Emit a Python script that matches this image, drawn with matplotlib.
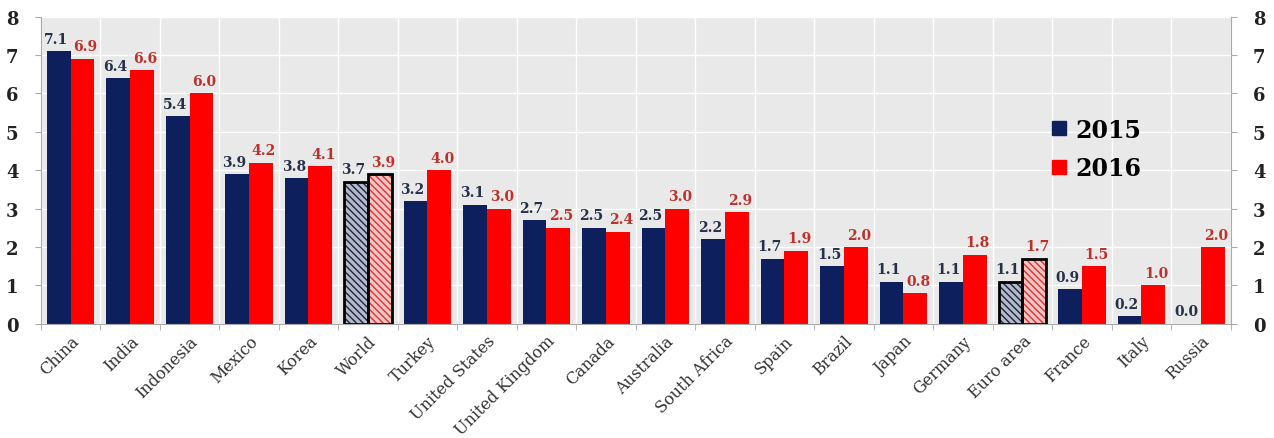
import numpy as np
import matplotlib.pyplot as plt
from matplotlib.lines import Line2D

# Dữ liệu tăng trưởng GDP (%)
countries = ['China', 'India', 'Indonesia', 'Mexico', 'Korea', 'World', 'Turkey',
             'United States', 'United Kingdom', 'Canada', 'Australia', 'South Africa',
             'Spain', 'Brazil', 'Japan', 'Germany', 'Euro area', 'France', 'Italy', 'Russia']
g2015 = [7.1, 6.4, 5.4, 3.9, 3.8, 3.7, 3.2, 3.1, 2.7, 2.5, 2.5, 2.2, 1.7, 1.5, 1.1, 1.1, 1.1, 0.9, 0.2, 0.0]
g2016 = [6.9, 6.6, 6.0, 4.2, 4.1, 3.9, 4.0, 3.0, 2.5, 2.4, 3.0, 2.9, 1.9, 2.0, 0.8, 1.8, 1.7, 1.5, 1.0, 2.0]
hatched = ['World', 'Euro area']

navy = '#0d1f5c'
red = '#ff0000'
serif = ['DejaVu Serif']

fig = plt.figure(figsize=(12.74, 4.39), dpi=100)
ax = fig.add_axes([0.032, 0.26, 0.934, 0.70])
ax.set_facecolor('#e9e9e9')

x = np.arange(len(countries))
w = 0.4
for i, c in enumerate(countries):
    if c in hatched:
        ax.bar(x[i] - w/2, g2015[i], w, color='#b4bac8', edgecolor='#1a2440', hatch='\\\\\\\\\\', linewidth=0)
        ax.bar(x[i] + w/2, g2016[i], w, color='#f6c6c6', edgecolor='#e03030', hatch='\\\\\\\\\\', linewidth=0)
        ax.bar(x[i] - w/2, g2015[i], w, fill=False, edgecolor='black', linewidth=2)
        ax.bar(x[i] + w/2, g2016[i], w, fill=False, edgecolor='black', linewidth=2)
    else:
        ax.bar(x[i] - w/2, g2015[i], w, color=navy)
        ax.bar(x[i] + w/2, g2016[i], w, color=red)

# Nhãn giá trị trên cột
for i in range(len(countries)):
    ax.text(x[i] - w/2 - 0.05, g2015[i] + 0.14, f'{g2015[i]:.1f}', ha='center', va='bottom',
            fontsize=10, fontweight='bold', color='#26304a', family=serif)
    ax.text(x[i] + w/2 + 0.05, g2016[i] + 0.14, f'{g2016[i]:.1f}', ha='center', va='bottom',
            fontsize=10, fontweight='bold', color='#c0302a', family=serif)

ax.set_xlim(-0.5, len(countries) - 0.5)
ax.set_ylim(0, 8)
ax.set_yticks(range(9))
ax.set_xticks(x)
ax.set_xticklabels(countries, rotation=45, ha='right', rotation_mode='anchor',
                   fontsize=11.5, family=serif, color='#333333')
ax.tick_params(axis='x', length=0, pad=6)
ax.set_xticks(np.arange(-0.5, len(countries), 1), minor=True)
ax.tick_params(axis='x', which='minor', length=4, color='#aaaaaa')
ax.grid(True, which='minor', axis='x', color='white', linewidth=1.0)
ax.grid(True, which='major', axis='y', color='white', linewidth=1.0)
ax.set_axisbelow(True)
ax.tick_params(axis='y', left=True, right=True, labelleft=True, labelright=True,
               length=4, color='#aaaaaa', labelsize=13, pad=12)
for lab in ax.get_yticklabels():
    lab.set_family(serif)
    lab.set_fontweight('bold')
    lab.set_color('#222222')
ax.spines['top'].set_visible(False)
for s in ['left', 'right', 'bottom']:
    ax.spines[s].set_color('#aaaaaa')

handles = [Line2D([], [], marker='s', color='none', markerfacecolor=navy, markeredgecolor=navy, markersize=10),
           Line2D([], [], marker='s', color='none', markerfacecolor=red, markeredgecolor=red, markersize=10)]
ax.legend(handles, ['2015', '2016'], loc='upper left', bbox_to_anchor=(0.83, 0.74),
          frameon=False, prop={'family': serif, 'weight': 'bold', 'size': 17},
          handlelength=0.8, handletextpad=0.3, labelspacing=0.6)

fig.savefig('out.png', dpi=100)
